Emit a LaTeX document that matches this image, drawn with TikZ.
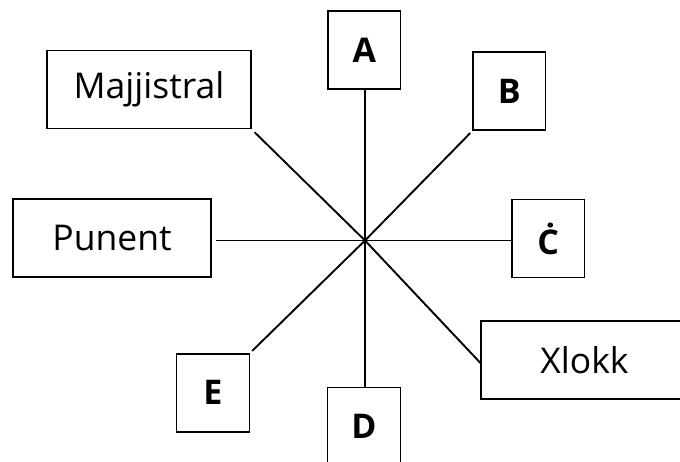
\documentclass[tikz,border=0pt]{standalone}
\usepackage{fontspec}
\setmainfont{Open Sans}
\begin{document}
\begin{tikzpicture}[x=1pt,y=-1pt,
  box/.style={draw=black, line width=1.4pt, inner sep=0pt, minimum height=78pt,
    font=\fontsize{35.5}{40}\selectfont},
  sbox/.style={box, minimum width=72.5pt, font=\fontsize{34}{40}\selectfont\bfseries},
  link/.style={line width=1.9pt}]
\useasboundingbox (0,0) rectangle (680,462);
\coordinate (c) at (365,240.5);
\node[sbox] (a) at (364.3,50) {A};
\node[sbox] (b) at (509.3,91.2) {B};
\node[sbox] (cc) at (548.2,238.7) {Ċ};
\node[sbox] (d) at (364,426.7) {D};
\node[sbox] (e) at (213,392.8) {E};
\node[box, minimum width=204pt] (maj) at (149,89.7) {Majjistral};
\node[box, minimum width=198pt] (pun) at (112,238) {Punent};
\node[box, minimum width=207pt] (xl) at (584.5,359.85) {Xlokk};
\coordinate (xle) at ([yshift=-3pt]xl.west);
\coordinate (ce) at (cc.west |- c);
\coordinate (pe) at (pun.east |- c);
\coordinate (ae) at (a.south -| c);
\coordinate (de) at (d.north -| c);
\draw[link] (c) -- (ae);
\draw[link] (c) -- (de);
\draw[link] (c) -- (ce);
\draw[link, shorten >=4.5pt] (c) -- (pe);
\draw[link, shorten >=4pt] (c) -- (maj.south east);
\draw[link, shorten >=3pt] (c) -- (b.south west);
\draw[link, shorten >=3pt] (c) -- (e.north east);
\draw[link] (c) -- (xle);
\end{tikzpicture}
\end{document}
